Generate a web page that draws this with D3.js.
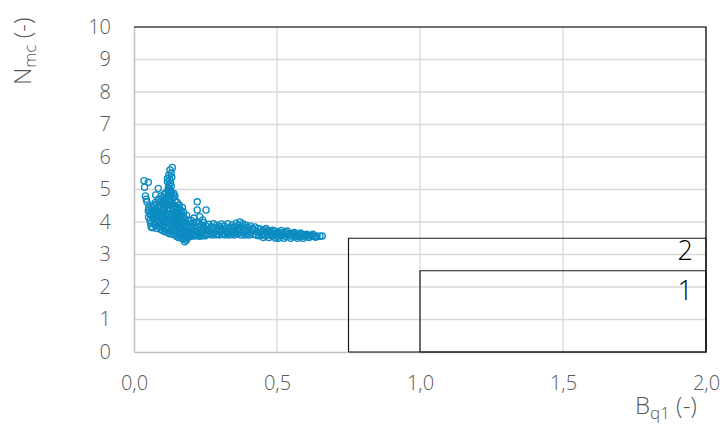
<!DOCTYPE html>
<html>
<head>
<meta charset="utf-8">
<script src="https://cdn.jsdelivr.net/npm/d3@7"></script>
<style>
  html, body { margin: 0; padding: 0; background: #fff; }
  svg { display: block; }
  text { font-family: "Open Sans", "Noto Sans", sans-serif; font-weight: 300; }
</style>
</head>
<body>
<svg id="chart" width="725" height="425"></svg>
<script>
// Measured samples: [Bq1, Nmc]
const samples = [
  [0.035,5.27],[0.05,5.22],[0.037,5.07],[0.04,4.8],[0.043,4.7],[0.045,4.62],
  [0.052,4.48],[0.05,4.35],[0.055,4.25],[0.051,4.15],[0.056,4.05],[0.053,4.4],[0.058,3.95],[0.06,3.85],
  [0.062,4.3],[0.064,4.45],[0.066,4.15],[0.065,3.82],[0.07,4.0],[0.068,4.52],[0.072,4.25],[0.074,3.9],
  [0.076,4.4],[0.078,4.1],[0.075,4.6],[0.08,3.8],[0.079,4.55],[0.085,5.03],[0.076,4.83],
  [0.082,4.3],[0.084,4.0],[0.086,4.7],[0.088,3.85],[0.09,4.5],[0.092,4.15],[0.094,3.77],[0.095,4.8],
  [0.096,4.35],[0.098,4.0],[0.1,4.6],[0.1,3.74],[0.083,4.45],[0.087,4.2],[0.091,3.95],[0.093,4.62],
  [0.097,4.25],[0.099,3.88],[0.101,4.75],[0.089,4.05],
  [0.06,4.2],[0.07,4.35],[0.08,4.2],[0.09,4.3],[0.095,4.1],[0.105,4.65],[0.115,4.25],[0.125,4.65],
  [0.135,4.25],[0.145,4.15],[0.15,4.35],[0.16,3.9],[0.165,3.65],[0.175,3.95],
  [0.103,4.1],[0.104,4.45],[0.105,3.8],[0.106,4.85],[0.107,4.3],[0.108,3.7],[0.109,4.6],[0.11,4.0],
  [0.111,4.9],[0.112,4.2],[0.113,3.85],[0.114,4.5],[0.115,4.72],[0.116,3.95],[0.117,4.35],[0.118,3.68],
  [0.119,4.8],[0.12,4.1],[0.102,3.9],[0.106,4.55],[0.11,4.7],[0.114,4.05],[0.118,4.42],
  [0.134,5.68],[0.126,5.6],[0.13,5.5],[0.122,5.45],[0.117,5.34],[0.117,5.24],[0.122,5.14],[0.12,5.05],
  [0.125,5.3],[0.128,5.2],[0.124,5.0],[0.119,4.95],[0.13,5.1],[0.127,4.92],[0.132,5.38],
  [0.121,3.8],[0.122,4.55],[0.123,4.25],[0.124,3.64],[0.125,4.85],[0.126,4.0],[0.127,4.4],[0.128,3.72],
  [0.129,4.68],[0.13,4.15],[0.131,3.9],[0.132,4.9],[0.133,4.3],[0.134,3.62],[0.135,4.55],[0.136,4.05],
  [0.137,4.75],[0.138,3.8],[0.139,4.4],[0.14,4.2],[0.123,4.95],[0.127,4.1],[0.131,4.62],[0.135,3.95],[0.139,4.88],
  [0.141,3.65],[0.142,4.5],[0.143,4.0],[0.144,4.65],[0.145,3.85],[0.146,4.3],[0.147,3.57],[0.148,4.1],
  [0.149,4.45],[0.15,3.75],[0.151,4.6],[0.152,3.95],[0.153,4.2],[0.154,3.6],[0.155,4.38],[0.156,3.85],
  [0.157,4.05],[0.158,4.52],[0.159,3.7],[0.16,4.25],[0.143,4.8],[0.147,4.25],[0.151,4.0],[0.155,3.52],[0.159,4.4],
  [0.162,3.55],[0.163,4.1],[0.164,3.8],[0.165,4.35],[0.166,3.95],[0.167,3.5],[0.168,4.2],[0.17,3.7],
  [0.171,4.0],[0.172,3.47],[0.173,4.3],[0.175,3.85],[0.176,3.6],[0.177,3.39],[0.178,4.1],[0.18,3.75],
  [0.181,3.5],[0.182,3.95],[0.184,4.2],[0.185,3.65],[0.186,3.85],[0.188,3.52],[0.19,4.05],[0.169,4.45],
  [0.174,4.15],[0.179,3.6],[0.183,3.44],[0.187,3.72],
  [0.191,3.62],[0.193,3.85],[0.195,3.55],[0.197,3.95],[0.199,3.7],[0.2,4.05],[0.202,3.58],[0.204,3.8],
  [0.206,3.65],[0.208,3.98],[0.21,3.57],[0.212,3.75],[0.214,3.88],[0.216,3.6],[0.218,4.0],[0.22,3.7],
  [0.222,3.58],[0.224,3.85],[0.226,3.65],[0.228,3.95],[0.23,3.56],[0.232,3.78],[0.234,3.6],[0.236,3.9],
  [0.238,3.7],[0.24,3.58],[0.242,3.82],[0.244,3.98],[0.246,3.62],[0.248,3.75],[0.25,3.58],
  [0.221,4.62],[0.221,4.37],[0.252,4.37],[0.23,4.16],[0.24,4.06],[0.21,4.12],
  [0.252,3.88],[0.254,3.66],[0.257,3.78],[0.26,3.62],[0.262,3.93],[0.265,3.71],[0.268,3.64],[0.27,3.85],
  [0.273,3.6],[0.276,3.76],[0.278,3.95],[0.28,3.66],[0.283,3.82],[0.286,3.61],[0.288,3.72],[0.29,3.9],
  [0.293,3.63],[0.296,3.78],[0.298,3.6],[0.3,3.86],[0.303,3.69],[0.306,3.94],[0.308,3.62],[0.31,3.75],
  [0.313,3.65],[0.316,3.88],[0.318,3.6],[0.32,3.73],[0.323,3.81],[0.326,3.63],[0.328,3.95],[0.33,3.69],
  [0.333,3.6],[0.336,3.83],[0.338,3.72],[0.34,3.62],[0.343,3.9],[0.346,3.66],[0.348,3.79],[0.35,3.6],
  [0.352,3.85],[0.355,3.7],[0.357,3.96],[0.36,3.62],[0.362,3.78],[0.365,3.9],[0.368,3.66],[0.37,4.0],
  [0.372,3.74],[0.375,3.6],[0.378,3.86],[0.38,3.95],[0.383,3.68],[0.386,3.8],[0.388,3.6],[0.39,3.9],
  [0.393,3.72],[0.396,3.63],[0.398,3.84],[0.4,3.75],[0.403,3.6],[0.406,3.88],[0.41,3.68],[0.414,3.8],[0.418,3.62],
  [0.42,3.75],[0.423,3.85],[0.426,3.6],[0.43,3.7],[0.433,3.8],[0.436,3.58],[0.44,3.68],[0.443,3.78],
  [0.446,3.6],[0.45,3.72],[0.453,3.63],[0.456,3.76],[0.46,3.58],[0.463,3.68],[0.467,3.74],[0.47,3.6],
  [0.474,3.7],[0.478,3.62],
  [0.48,3.68],[0.484,3.57],[0.488,3.65],[0.49,3.72],[0.494,3.6],[0.498,3.66],[0.5,3.56],[0.504,3.7],
  [0.508,3.62],[0.512,3.58],[0.516,3.68],[0.52,3.6],[0.524,3.65],[0.528,3.56],[0.532,3.67],[0.536,3.6],
  [0.54,3.63],[0.545,3.57],
  [0.55,3.65],[0.554,3.58],[0.558,3.62],[0.562,3.55],[0.566,3.64],[0.57,3.58],[0.575,3.61],[0.58,3.55],
  [0.585,3.62],[0.59,3.57],[0.595,3.6],[0.6,3.56],[0.607,3.59],[0.614,3.57],[0.622,3.58],[0.63,3.56],
  [0.64,3.57],[0.65,3.56],[0.658,3.57],
  [0.452,3.52],[0.462,3.8],[0.472,3.52],[0.485,3.75],[0.495,3.5],[0.505,3.5],[0.515,3.74],[0.525,3.5],
  [0.535,3.72],[0.548,3.5],[0.56,3.68],[0.572,3.5],[0.582,3.66],[0.592,3.5],[0.603,3.62],[0.612,3.52],
  [0.625,3.62],[0.635,3.53]
];

// Limit zones: lower-left corner at (start, 0), upper-right at (2.0, top)
const zoneNames = ["2", "1"];
const zoneStart = [0.75, 1.0];
const zoneTop = [3.5, 2.5];

const xTicks = [0, 0.5, 1.0, 1.5, 2.0];
const xTickLabels = ["0,0", "0,5", "1,0", "1,5", "2,0"];
const yTicks = [0, 1, 2, 3, 4, 5, 6, 7, 8, 9, 10];

const svg = d3.select("#chart");
const x = d3.scaleLinear().domain([0, 2]).range([134, 706]);
const y = d3.scaleLinear().domain([0, 10]).range([352, 27]);

// gridlines
svg.append("g").selectAll("line").data(yTicks.slice(1)).join("line")
  .attr("x1", x(0)).attr("x2", x(2))
  .attr("y1", d => y(d)).attr("y2", d => y(d))
  .attr("stroke", "#d9d9d9").attr("stroke-width", 1.3);
svg.append("g").selectAll("line").data(xTicks.slice(1)).join("line")
  .attr("x1", d => x(d)).attr("x2", d => x(d))
  .attr("y1", y(0)).attr("y2", y(10))
  .attr("stroke", "#d9d9d9").attr("stroke-width", 1.3);

// axes
const xAxis = d3.axisBottom(x).tickValues(xTicks).tickSize(0).tickPadding(24)
  .tickFormat((d, i) => xTickLabels[i]);
const yAxis = d3.axisLeft(y).tickValues(yTicks).tickSize(0).tickPadding(23)
  .tickFormat(d3.format("d"));

const gx = svg.append("g").attr("transform", `translate(0,${y(0)})`).call(xAxis);
const gy = svg.append("g").attr("transform", `translate(${x(0)},0)`).call(yAxis);
[gx, gy].forEach(g => {
  g.select(".domain").attr("stroke", "#bfbfbf").attr("stroke-width", 1.5);
  g.selectAll("text").attr("fill", "#595959").attr("font-size", 20)
    .attr("font-family", "'Open Sans', sans-serif").attr("font-weight", 300);
});

// outer frame (top and right)
svg.append("path")
  .attr("d", d3.line()([[x(0), y(10)], [x(2), y(10)], [x(2), y(0)]]))
  .attr("fill", "none").attr("stroke", "#000").attr("stroke-width", 1.2);

// samples
svg.append("g").selectAll("circle").data(samples).join("circle")
  .attr("cx", d => x(d[0])).attr("cy", d => y(d[1])).attr("r", 3.1)
  .attr("fill", "none").attr("stroke", "#0b8bc1").attr("stroke-width", 1.3);

// zones
const zones = zoneNames.map((n, i) => ({ name: n, x0: zoneStart[i], top: zoneTop[i] }));
svg.append("g").selectAll("path").data(zones).join("path")
  .attr("d", z => d3.line()([[x(z.x0), y(0)], [x(z.x0), y(z.top)], [x(2), y(z.top)], [x(2), y(0)], [x(z.x0), y(0)]]))
  .attr("fill", "none").attr("stroke", "#1a1a1a").attr("stroke-width", 1.2);

// zone labels, just below each zone's top edge
const labelDrop = [22, 29];
svg.append("g").selectAll("text").data(zones).join("text")
  .attr("x", x(2) - 13)
  .attr("y", (z, i) => y(z.top) + labelDrop[i])
  .attr("text-anchor", "end").attr("font-size", 27).attr("fill", "#000")
  .text(z => z.name);

// axis titles
const xt = svg.append("text").attr("x", 635).attr("y", 413.5)
  .attr("font-size", 24).attr("fill", "#595959");
xt.append("tspan").text("B");
xt.append("tspan").attr("font-size", 17).attr("dy", 5).text("q1");
xt.append("tspan").attr("dy", -5).text(" (-)");

const yt = svg.append("text").attr("transform", "translate(31,85) rotate(-90)")
  .attr("font-size", 24).attr("fill", "#595959");
yt.append("tspan").text("N");
yt.append("tspan").attr("font-size", 17).attr("dy", 5).text("mc");
yt.append("tspan").attr("dy", -5).text(" (-)");
</script>
</body>
</html>
